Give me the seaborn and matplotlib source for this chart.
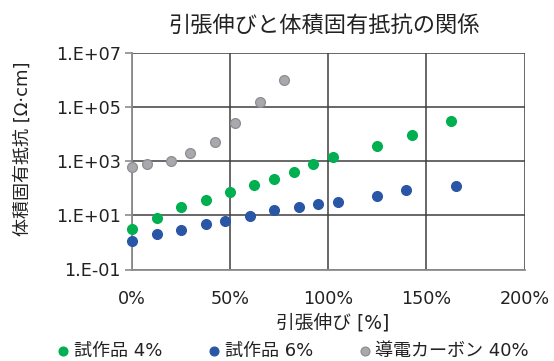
import numpy as np
import pandas as pd
import matplotlib
matplotlib.use("Agg")
import matplotlib.pyplot as plt
import seaborn as sns
from matplotlib.ticker import FixedLocator, FuncFormatter

sns.set_theme(style="white")
plt.rcParams["font.family"] = ["DejaVu Sans", "Noto Sans CJK JP"]

# 試作品 4%
elong_4 = [0, 12.6, 25.0, 37.6, 50.0, 62.4, 72.4, 82.4, 92.4, 102.3, 124.9, 142.6, 162.4]
res_4 = [3.1, 8.1, 20, 37, 71, 138, 214, 398, 776, 1450, 3630, 9120, 29500]

# 試作品 6%
elong_6 = [0, 12.6, 25.0, 37.6, 47.4, 60.0, 72.4, 85.1, 95.0, 104.9, 124.9, 139.8, 165.0]
res_6 = [1.1, 2.1, 3.0, 4.8, 6.3, 9.1, 15.5, 20.9, 25.7, 30.2, 53.7, 85.1, 123]

# 導電カーボン 40%
elong_c = [0, 7.5, 19.9, 29.7, 42.5, 52.3, 65.1, 77.3]
res_c = [616, 776, 1000, 2040, 5010, 25100, 155000, 977000]

series = ["試作品 4%", "試作品 6%", "導電カーボン 40%"]
colors = ["#00B050", "#2A56A6", "#A9A9AD"]
edges = ["#00B050", "#2A56A6", "#8E8E92"]

df = pd.concat([
    pd.DataFrame({"elong": elong_4, "res": res_4, "series": series[0]}),
    pd.DataFrame({"elong": elong_6, "res": res_6, "series": series[1]}),
    pd.DataFrame({"elong": elong_c, "res": res_c, "series": series[2]}),
])

W, H = 554, 361
fig = plt.figure(figsize=(W / 100, H / 100), dpi=100)
ax = fig.add_axes([132 / W, 1 - 269.5 / H, (524.5 - 132) / W, (269.5 - 53) / H])

for name, c, ec in zip(series, colors, edges):
    sub = df[df["series"] == name]
    sns.scatterplot(data=sub, x="elong", y="res", ax=ax, color=c, edgecolor=ec,
                    linewidth=0.9, s=50, label=name, zorder=3, clip_on=False)

ax.set_yscale("log")
ax.set_xlim(0, 200)
ax.set_ylim(0.1, 1e7)
ax.yaxis.set_major_locator(FixedLocator([1e-1, 1e1, 1e3, 1e5, 1e7]))
ax.yaxis.set_minor_locator(FixedLocator([]))
ax.yaxis.set_major_formatter(FuncFormatter(lambda v, p: "1.E%+03d" % int(round(np.log10(v)))))
ax.xaxis.set_major_locator(FixedLocator([0, 50, 100, 150, 200]))
ax.xaxis.set_major_formatter(FuncFormatter(lambda v, p: f"{int(v)}%"))

ax.grid(True, color="#3F3F3F", linewidth=1.1, zorder=0)
ax.set_axisbelow(True)
for side in ["top", "right"]:
    ax.spines[side].set_visible(False)
for side in ["left", "bottom"]:
    ax.spines[side].set_color("#8C8C8C")
    ax.spines[side].set_linewidth(1.3)

ax.tick_params(axis="y", which="major", left=True, length=5, width=1.2, color="#8C8C8C",
               labelsize=12.7, labelcolor="#222222", pad=3)
ax.tick_params(axis="x", which="major", bottom=False, labelsize=12.7, labelcolor="#222222", pad=9)

ax.set_xlabel("引張伸び [%]", fontsize=13.5, color="#222222")
ax.set_ylabel("体積固有抵抗 [Ω·cm]", fontsize=13, color="#222222")
ax.xaxis.set_label_coords((333 - 132) / (524.5 - 132), -(323 - 269.5) / (269.5 - 53))
ax.yaxis.set_label_coords(-(132 - 23) / (524.5 - 132), (269.5 - 149) / (269.5 - 53))
ax.xaxis.label.set_va("center")
ax.yaxis.label.set_va("center")

fig.text(324 / W, 1 - 25 / H, "引張伸びと体積固有抵抗の関係", ha="center", va="center",
         fontsize=16, color="#222222")

handles, labels = ax.get_legend_handles_labels()
ax.get_legend().remove()
fig.legend(handles, labels, loc="center", bbox_to_anchor=(294 / W, 1 - 351 / H), ncol=3,
           frameon=False, fontsize=13, handlelength=0.5, handletextpad=0.35,
           columnspacing=2.6, markerscale=0.9, labelcolor="#222222", borderpad=0)

fig.savefig("out.png", dpi=100)
